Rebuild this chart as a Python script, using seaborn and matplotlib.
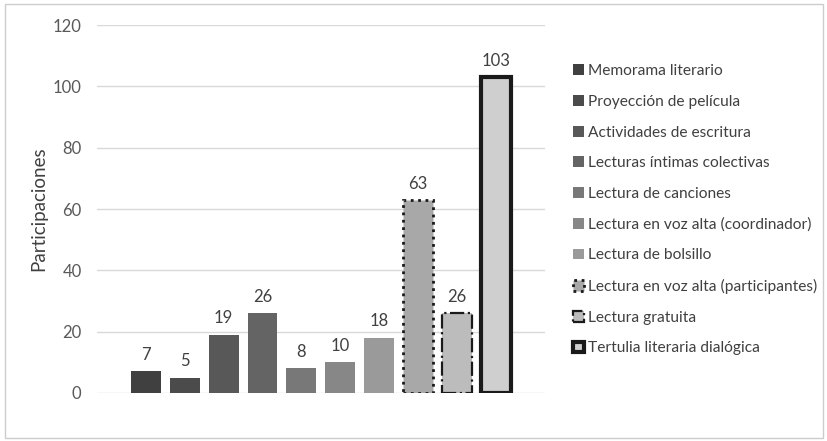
import matplotlib
matplotlib.use("Agg")
import matplotlib.pyplot as plt
import seaborn as sns
from matplotlib.patches import Rectangle

actividades = ["Memorama literario", "Proyección de película", "Actividades de escritura",
               "Lecturas íntimas colectivas", "Lectura de canciones",
               "Lectura en voz alta (coordinador)", "Lectura de bolsillo",
               "Lectura en voz alta (participantes)", "Lectura gratuita",
               "Tertulia literaria dialógica"]
participaciones = [7, 5, 19, 26, 8, 10, 18, 63, 26, 103]
grises = ["#404040", "#4b4b4b", "#585858", "#646464", "#787878",
          "#878787", "#9a9a9a", "#a8a8a8", "#bcbcbc", "#cfcfcf"]

sns.set_style("white")
plt.rcParams['font.family'] = ['Lato', 'DejaVu Sans']

fig = plt.figure(figsize=(8.28, 4.41), dpi=100)
ax = fig.add_axes([0.117, 0.109, 0.541, 0.834])

sns.barplot(x=actividades, y=participaciones, hue=actividades, palette=grises,
            legend=False, width=0.77, saturation=1, ax=ax)

# bordes especiales de las tres ultimas barras
bars = ax.patches
for b in bars:
    b.set_edgecolor("none")
bars[7].set_edgecolor("#1a1a1a"); bars[7].set_linestyle(":"); bars[7].set_linewidth(2)
bars[8].set_edgecolor("#1a1a1a"); bars[8].set_linestyle("-."); bars[8].set_linewidth(1.6)
bars[9].set_edgecolor("#1a1a1a"); bars[9].set_linestyle("-"); bars[9].set_linewidth(3)

for c in ax.containers:
    ax.bar_label(c, padding=6, fontsize=12, color="#404040")

ax.set_ylim(0, 120)
ax.set_xlim(-1.26, 10.26)
ax.set_yticks(range(0, 121, 20))
ax.set_xticks([])
ax.set_xlabel("")
ax.set_ylabel("Participaciones", fontsize=13.5, color="#404040", labelpad=4)
ax.tick_params(axis="y", labelsize=12, labelcolor="#595959", length=0, pad=11)
ax.yaxis.grid(True, color="#d9d9d9", linewidth=1)
ax.set_axisbelow(True)
for s in ax.spines.values():
    s.set_visible(False)

ax.legend(handles=list(bars), labels=actividades, loc="upper left",
          bbox_to_anchor=(0.675, 0.886), bbox_transform=fig.transFigure,
          frameon=False, fontsize=11.2, handlelength=0.7, handleheight=0.7,
          handletextpad=0.25, labelspacing=1.07, labelcolor="#404040")

fig.patches.append(Rectangle((0.006, 0.006), 0.988, 0.985, transform=fig.transFigure,
                             fill=False, edgecolor="#cccccc", linewidth=1))

fig.savefig("out.png", dpi=100, facecolor="white")
